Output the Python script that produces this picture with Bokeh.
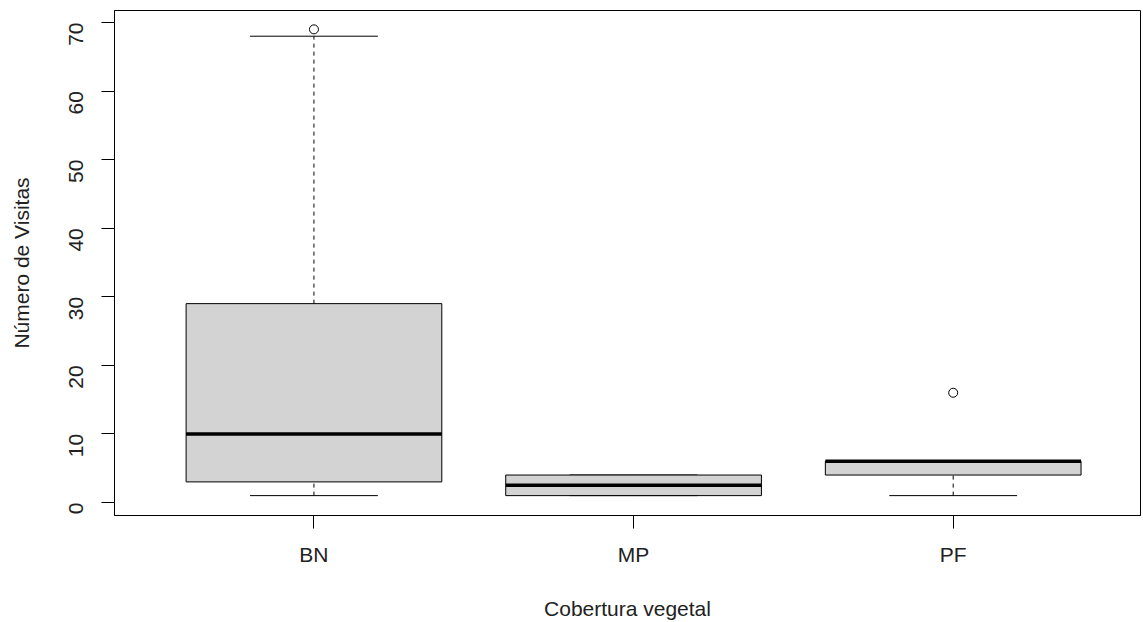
from bokeh.plotting import figure
from bokeh.models import Range1d, FixedTicker, ColumnDataSource
from bokeh.embed import file_html
from bokeh.resources import INLINE
import math

categories = ["BN", "MP", "PF"]
q1 = [3, 1, 4]
median = [10, 2.5, 6]
q3 = [29, 4, 6]
whisker_low = [1, 1, 1]
whisker_high = [68, 4, 6]
outlier_cat = ["BN", "PF"]
outlier_val = [69, 16]
y_ticks = [0, 10, 20, 30, 40, 50, 60, 70]

xpos = [i + 1 for i in range(len(categories))]
pos_of = dict(zip(categories, xpos))

p = figure(width=1141, height=622, output_backend="svg", toolbar_location=None,
           x_range=Range1d(0.376, 3.586), y_range=Range1d(-1.9, 71.75),
           min_border_left=114, min_border_top=10, min_border_right=1, min_border_bottom=107)
p.grid.visible = False
p.outline_line_color = "black"
p.outline_line_width = 1
p.background_fill_color = "white"
p.border_fill_color = "white"

src = ColumnDataSource(dict(x=xpos, q1=q1, med=median, q3=q3, lo=whisker_low, hi=whisker_high,
                            cl=[v - 0.2 for v in xpos], cr=[v + 0.2 for v in xpos],
                            bl=[v - 0.4 for v in xpos], br=[v + 0.4 for v in xpos]))

# whiskers (dashed)
p.segment(x0="x", y0="q3", x1="x", y1="hi", source=src, line_color="black", line_width=1, line_dash="4 4")
p.segment(x0="x", y0="lo", x1="x", y1="q1", source=src, line_color="black", line_width=1, line_dash="4 4")
# caps
p.segment(x0="cl", y0="hi", x1="cr", y1="hi", source=src, line_color="black", line_width=1)
p.segment(x0="cl", y0="lo", x1="cr", y1="lo", source=src, line_color="black", line_width=1)
# boxes
p.vbar(x="x", width=0.8, bottom="q1", top="q3", source=src, fill_color="#d3d3d3",
       line_color="black", line_width=1)
# medians
p.segment(x0="bl", y0="med", x1="br", y1="med", source=src, line_color="black", line_width=3.5)
# outliers
p.scatter(x=[pos_of[c] for c in outlier_cat], y=outlier_val, marker="circle", size=9,
          fill_color="white", line_color="black", line_width=1)

font = "Liberation Sans"
p.xaxis.ticker = FixedTicker(ticks=xpos)
p.xaxis.major_label_overrides = {x: c for x, c in zip(xpos, categories)}
p.yaxis.ticker = FixedTicker(ticks=y_ticks)
p.yaxis.major_label_orientation = math.pi / 2

for ax in (p.xaxis[0], p.yaxis[0]):
    ax.axis_line_color = "black"
    ax.major_tick_line_color = "black"
    ax.minor_tick_line_color = None
    ax.major_tick_in = 0
    ax.major_tick_out = 13
    ax.major_label_text_font = font
    ax.major_label_text_font_size = "21px"
    ax.major_label_text_color = "#222222"
    ax.axis_label_text_font = font
    ax.axis_label_text_font_size = "21px"
    ax.axis_label_text_font_style = "normal"
    ax.axis_label_text_color = "#222222"

p.xaxis.major_label_standoff = 14
p.yaxis.major_label_standoff = 25
p.xaxis.axis_label = "Cobertura vegetal"
p.yaxis.axis_label = "Número de Visitas"
p.xaxis.axis_label_standoff = 28
p.yaxis.axis_label_standoff = 27

open("out.html", "w").write(file_html(p, INLINE))
